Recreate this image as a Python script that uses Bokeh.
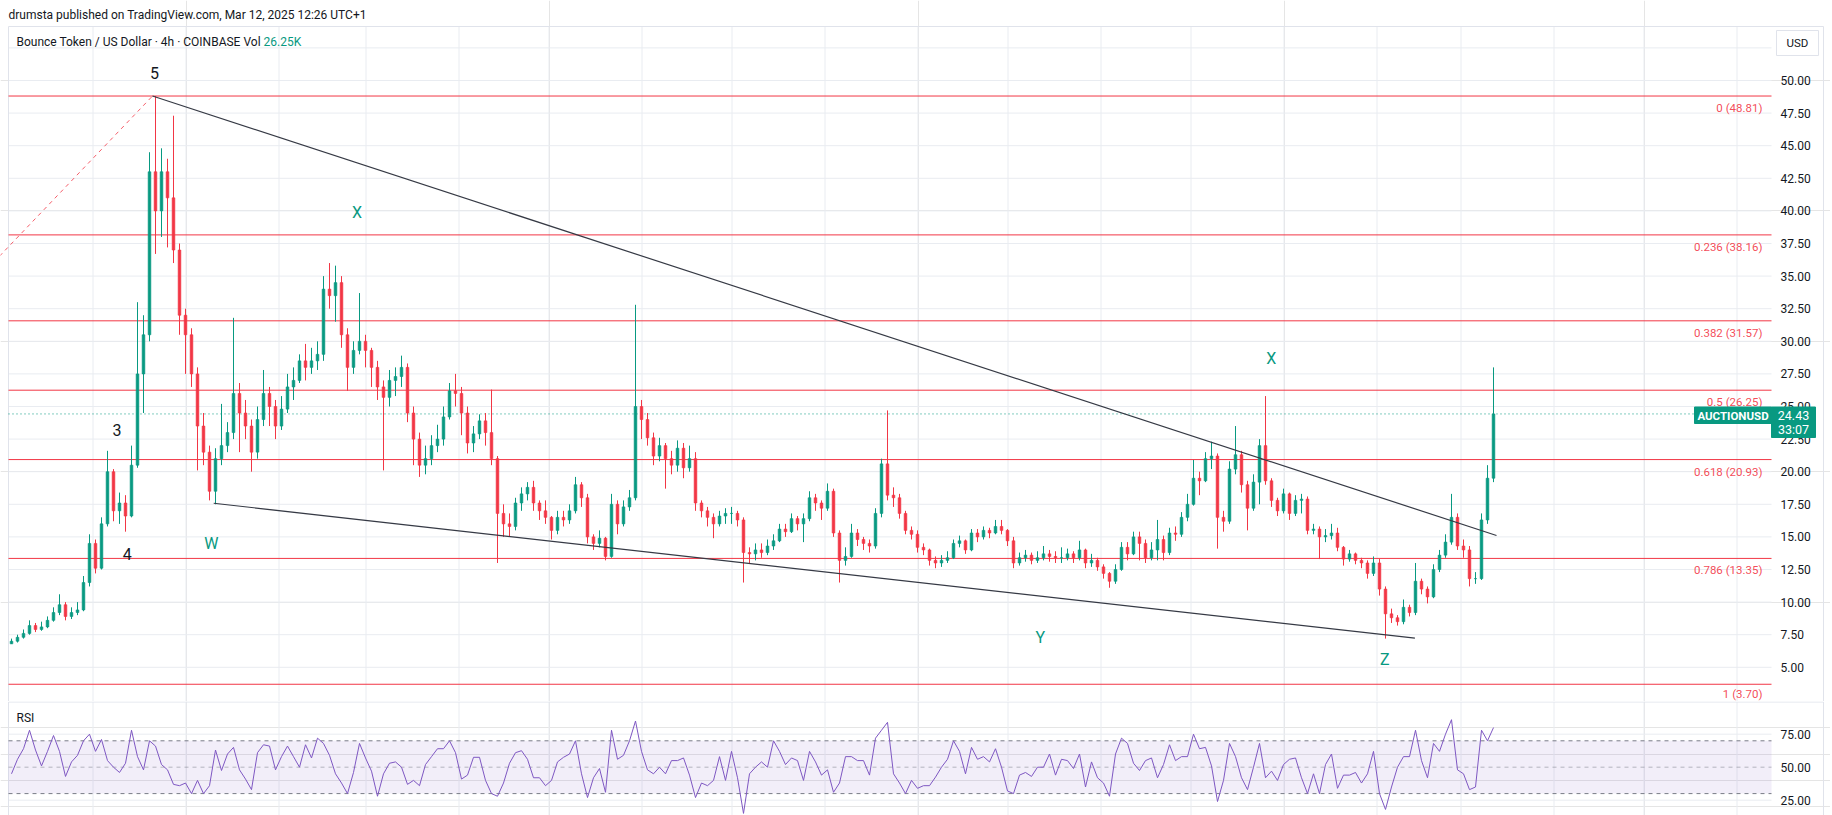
import pandas as pd
from bokeh.plotting import figure
from bokeh.models import Range1d, ColumnDataSource
from bokeh.layouts import column
from bokeh.embed import file_html
from bokeh.resources import INLINE
from bokeh.core.properties import value

FONT = "Roboto"
UP, DOWN = "#089981", "#f23645"
GRID = "#e9ecf1"
BORDER = "#e0e3eb"
TXT = "#131722"

# ---------------- data (2-day candles) ----------------
first_open = 6.8
close = [
    7.0, 7.3, 7.6, 8.2, 7.9, 8.1, 8.6, 9.2, 9.8, 8.9,
    9.2, 9.4, 11.5, 14.5, 12.6, 16.0, 20.0, 17.0, 17.6, 16.6,
    20.5, 27.5, 30.5, 43.0, 40.0, 43.0, 41.0, 37.0, 32.0, 30.5,
    27.5, 23.5, 21.5, 18.5, 21.0, 22.0, 23.0, 26.0, 24.5, 23.5,
    21.5, 24.0, 26.0, 25.0, 23.5, 24.8, 26.5, 27.0, 28.5, 28.0,
    28.5, 29.0, 34.0, 33.5, 34.5, 30.5, 28.0, 29.3, 30.0, 29.3,
    28.0, 26.5, 25.7, 27.0, 27.3, 28.0, 24.5, 22.5, 20.5, 21.0,
    22.0, 22.5, 24.2, 26.2, 26.0, 24.5, 22.2, 22.9, 23.9, 23.0,
    21.0, 16.8, 16.0, 15.8, 17.6, 18.3, 18.8, 17.6, 17.0, 16.5,
    15.5, 16.5, 16.3, 17.0, 19.0, 18.0, 15.0, 14.5, 14.9, 13.5,
    17.5, 16.0, 17.3, 18.0, 25.0, 24.0, 22.6, 21.2, 22.0, 21.0,
    20.5, 21.8, 20.3, 21.0, 17.6, 17.0, 16.5, 16.0, 16.6, 16.8,
    16.8, 16.3, 13.8, 13.7, 14.0, 13.8, 14.3, 14.7, 15.6, 15.4,
    16.4, 16.0, 16.4, 18.0, 17.6, 17.2, 18.5, 15.3, 13.2, 13.5,
    15.3, 14.8, 14.5, 14.3, 16.8, 20.6, 18.2, 18.0, 16.8, 15.5,
    15.2, 14.2, 14.0, 13.2, 13.0, 13.2, 13.4, 14.5, 14.7, 14.0,
    15.3, 15.0, 15.5, 15.3, 15.8, 15.5, 14.7, 13.0, 13.4, 13.6,
    13.2, 13.4, 13.7, 13.5, 13.4, 13.4, 13.7, 13.4, 14.0, 13.0,
    13.2, 12.7, 12.2, 11.6, 12.5, 14.2, 13.7, 15.0, 14.5, 13.4,
    14.0, 14.8, 13.8, 15.3, 15.2, 16.5, 17.5, 19.5, 19.3, 21.0,
    21.2, 16.5, 16.2, 20.2, 21.3, 19.0, 17.2, 19.2, 22.0, 19.3,
    17.8, 17.0, 18.3, 16.8, 17.8, 17.9, 15.5, 15.6, 15.0, 15.1,
    15.3, 14.2, 13.3, 13.7, 13.2, 13.0, 12.2, 13.0, 11.0, 9.1,
    8.8, 8.5, 9.6, 9.2, 11.6, 11.0, 10.4, 12.5, 13.6, 14.6,
    16.5, 14.3, 14.0, 11.8, 11.8, 16.3, 19.5, 24.43,
]
high = [
    7.2, 7.5, 7.9, 8.6, 8.4, 8.5, 8.9, 9.6, 10.6, 10.0,
    9.6, 10.0, 12.0, 15.2, 14.8, 16.5, 21.6, 20.2, 18.4, 18.2,
    22.0, 33.0, 32.0, 44.5, 48.81, 44.8, 44.0, 47.3, 37.5, 32.5,
    31.0, 28.0, 24.5, 22.0, 21.8, 25.2, 23.8, 31.8, 26.8, 25.5,
    24.0, 25.0, 27.8, 26.5, 25.5, 25.8, 27.5, 28.0, 29.0, 29.8,
    29.5, 30.0, 35.0, 36.0, 35.8, 35.0, 31.0, 30.0, 33.7, 30.5,
    29.5, 28.5, 27.0, 27.8, 28.0, 28.9, 28.3, 25.0, 23.0, 22.0,
    22.8, 23.6, 25.0, 26.8, 27.5, 26.5, 25.0, 23.5, 24.4, 24.5,
    26.3, 21.2, 17.5, 16.8, 18.0, 18.8, 19.2, 19.3, 17.8, 17.8,
    16.6, 17.0, 17.0, 17.5, 19.6, 19.2, 18.3, 15.2, 15.5, 15.0,
    18.3, 17.8, 17.8, 18.6, 32.8, 25.5, 24.5, 23.0, 22.6, 22.2,
    21.6, 22.4, 22.2, 22.0, 21.5, 17.8, 17.3, 16.8, 17.0, 17.2,
    17.3, 17.0, 16.5, 14.2, 14.5, 14.5, 14.8, 15.2, 16.0, 16.0,
    16.8, 16.6, 16.8, 18.5, 18.3, 17.8, 19.1, 18.7, 15.5, 14.2,
    16.0, 15.6, 15.0, 14.8, 17.2, 21.0, 24.7, 18.8, 18.3, 17.0,
    15.8, 15.5, 14.5, 14.1, 13.5, 13.6, 13.9, 14.8, 15.1, 14.8,
    15.6, 15.6, 15.8, 15.7, 16.3, 16.3, 15.6, 15.0, 13.8, 14.0,
    13.8, 13.9, 14.3, 14.0, 13.9, 14.2, 14.1, 13.9, 14.7, 14.1,
    13.7, 13.4, 12.9, 12.3, 12.9, 14.6, 14.6, 15.4, 15.4, 14.8,
    14.6, 16.3, 15.1, 15.7, 15.8, 16.9, 18.3, 20.9, 20.0, 21.5,
    22.3, 21.4, 17.0, 20.8, 23.5, 21.6, 19.3, 19.8, 22.5, 25.8,
    19.5, 18.0, 18.7, 18.4, 18.2, 18.3, 18.1, 16.0, 15.8, 15.6,
    16.0, 15.7, 14.3, 14.0, 13.8, 13.4, 13.2, 13.5, 13.3, 11.2,
    9.5, 9.0, 10.2, 9.8, 13.0, 11.8, 11.2, 12.9, 14.0, 15.2,
    18.3, 16.8, 14.8, 14.3, 12.3, 16.8, 20.5, 28.0,
]
low = [
    6.8, 6.9, 7.2, 7.5, 7.7, 7.8, 8.0, 8.5, 9.0, 8.6,
    8.7, 9.0, 9.3, 11.2, 12.2, 12.5, 15.8, 16.2, 16.0, 15.4,
    16.5, 20.3, 24.5, 30.0, 36.7, 38.0, 37.2, 36.0, 30.5, 27.5,
    26.5, 20.1, 20.5, 17.8, 17.5, 20.5, 21.5, 22.5, 21.5, 22.5,
    20.0, 21.0, 23.5, 23.5, 22.5, 23.2, 24.5, 25.5, 26.8, 27.0,
    27.5, 27.8, 28.5, 32.5, 31.5, 29.5, 26.2, 27.5, 29.0, 28.0,
    26.5, 25.5, 20.1, 25.0, 25.8, 26.5, 23.8, 20.5, 19.6, 19.8,
    20.5, 21.5, 22.0, 24.0, 25.0, 22.8, 21.4, 21.5, 22.5, 22.0,
    20.5, 13.0, 15.0, 15.0, 15.5, 17.0, 17.8, 17.0, 16.3, 16.0,
    14.8, 15.2, 15.8, 16.0, 16.8, 17.3, 14.5, 14.0, 14.2, 13.2,
    13.4, 15.2, 15.8, 17.0, 17.8, 22.5, 22.0, 20.5, 20.8, 18.7,
    19.8, 20.0, 19.5, 20.0, 17.0, 16.5, 15.8, 14.9, 15.8, 16.0,
    16.0, 15.8, 11.5, 13.0, 13.2, 13.4, 13.6, 14.0, 14.6, 15.0,
    15.3, 15.5, 14.6, 16.2, 17.0, 16.3, 17.0, 15.0, 11.5, 12.8,
    13.4, 14.3, 14.0, 13.8, 14.1, 16.5, 17.8, 17.3, 16.4, 15.2,
    14.8, 13.8, 13.6, 12.8, 12.6, 12.7, 13.0, 13.3, 14.2, 13.7,
    13.9, 14.6, 14.8, 14.9, 15.2, 15.2, 14.3, 12.6, 12.8, 13.1,
    12.9, 13.0, 13.2, 13.1, 13.0, 13.0, 13.2, 13.0, 13.2, 12.6,
    12.7, 12.4, 11.8, 11.1, 11.4, 12.4, 13.2, 13.6, 13.2, 13.0,
    13.2, 13.2, 13.2, 13.6, 14.7, 15.0, 16.2, 17.4, 18.2, 19.2,
    20.2, 14.1, 15.4, 16.0, 19.8, 18.4, 15.5, 17.0, 17.5, 19.0,
    17.3, 16.6, 16.8, 16.3, 16.6, 16.8, 15.2, 15.2, 13.3, 14.6,
    14.8, 13.9, 12.8, 13.1, 12.9, 12.6, 11.8, 12.0, 10.5, 7.2,
    8.4, 8.2, 8.3, 8.9, 9.0, 10.6, 9.9, 10.3, 12.3, 13.4,
    14.4, 14.0, 13.4, 11.2, 11.4, 11.7, 16.0, 19.2,
]
rsi = [
    45, 56, 64, 78, 63, 51, 62, 74, 62, 43,
    54, 59, 70, 75, 62, 71, 55, 50, 46, 53,
    78, 58, 48, 70, 66, 52, 48, 37, 36, 38,
    30, 40, 30, 36, 63, 47.5, 60, 65, 48, 41,
    33, 61, 67, 66, 48, 58, 66, 58, 50, 67,
    57, 72, 68, 59, 45, 38, 30, 46, 68, 57,
    47, 28, 45, 53, 54, 50, 37, 40, 36, 52,
    58, 64, 64, 70, 61, 41, 44, 57.5, 57.5, 40,
    30, 28, 38, 53, 61, 62.5, 56, 42, 42, 36,
    40, 54, 57.5, 60, 70, 45, 27, 42, 49, 31,
    78, 56, 59, 70, 85, 62, 48, 45, 50, 45,
    55, 55, 57, 44, 27, 38, 36, 40, 58, 40,
    62, 42, 15, 45, 50, 54, 50, 70, 62, 52,
    57, 55, 40, 62, 54, 44, 48, 31, 38, 58,
    58, 55, 55, 44, 72, 78, 84, 45, 38, 30,
    40, 34, 36, 36, 42.5, 50, 56, 70, 62, 45,
    65, 56, 58, 54, 64, 50, 32, 30, 44, 46,
    43, 50, 50, 60, 44, 56, 55, 49, 60, 35,
    54, 42, 38, 28, 60, 72, 68, 53, 47.5, 55,
    57, 42, 52, 67, 55, 58, 58, 75, 64, 65,
    51, 24, 40, 68, 58, 42, 33, 50, 68, 42,
    47, 40, 52, 56, 57, 42, 30, 45, 30, 52,
    60, 34, 44, 44, 46, 38, 45, 62, 30, 18,
    35, 50, 58, 58, 78, 55, 42, 68, 62, 75,
    86, 48, 45, 33, 35, 78, 70, 80,
]
last_price = 24.43
countdown = "33:07"
fib_ratios = ["0", "0.236", "0.382", "0.5", "0.618", "0.786", "1"]
fib_prices = [48.81, 38.16, 31.57, 26.25, 20.93, 13.35, 3.70]
price_ticks = [5.0 + 2.5 * k for k in range(19)]      # 5.00 .. 50.00
grid_prices = [5.0 + 2.5 * k for k in range(20)]      # incl. 52.50 (under the USD box)
rsi_ticks = [25, 50, 75]
rsi_upper, rsi_mid, rsi_lower = 70, 50, 30
month_starts = ["2023-12-01", "2024-01-01", "2024-02-01", "2024-03-01", "2024-04-01",
                "2024-05-01", "2024-06-01", "2024-07-01", "2024-08-01", "2024-09-01",
                "2024-10-01", "2024-11-01", "2024-12-01", "2025-01-01", "2025-02-01",
                "2025-03-01", "2025-04-01", "2025-05-01", "2025-06-01"]
wave_text = ["5", "3", "4", "W", "X", "X", "Y", "Z"]
wave_day = [48.7, 36.2, 39.6, 67.6, 116.2, 420.9, 343.9, 458.8]
wave_price = [50.6, 23.2, 13.7, 14.5, 39.9, 28.7, 7.3, 5.6]
wave_color = [TXT, TXT, TXT, UP, UP, UP, UP, UP]
upper_line = [(48.0, 48.81), (496.0, 15.11)]
lower_line = [(68.4, 17.58), (468.8, 7.23)]
fib_anchor = [(-139.3, 3.70), (48.0, 48.81)]

# ---------------- screen layout helpers (page pixels -> data) ----------------
t0 = pd.Timestamp("2023-11-02 20:00")          # time at the chart's left edge (x = 8px)
def day(d):
    return t0 + pd.Timedelta(days=d)
def X(px):                                      # 3 px per day
    return day((px - 8) / 3.0)
def P(py):                                      # price pane: 13.04 px per USD
    return 50 - (py - 80) / 13.04
def R(py):                                      # RSI pane: 1.32 px per point
    return 50 + (766.7 - py) / 1.32

W, H1, H2 = 1830, 701, 114
L, PR, RB = 8, 1771, 1823                       # left edge, plot right edge, chart right border
xr = Range1d(start=X(0), end=X(W))

dates = [day(2 * i + 1) for i in range(len(close))]
opens = [first_open] + close[:-1]
src = ColumnDataSource(dict(
    t=dates, h=high, l=low,
    top=[max(o, c) for o, c in zip(opens, close)],
    bot=[min(o, c) for o, c in zip(opens, close)],
    col=[UP if c >= o else DOWN for o, c in zip(opens, close)]))
months = [pd.Timestamp(m) for m in month_starts]

def base_fig(h, yr):
    f = figure(width=W, height=h, x_range=xr, y_range=yr,
               x_axis_location=None, y_axis_location=None,
               output_backend="svg", toolbar_location=None, min_border=0)
    f.outline_line_color = None
    f.background_fill_color = "white"
    f.border_fill_color = "white"
    return f

# ---------------- main price pane ----------------
p = base_fig(H1, Range1d(P(H1), P(0)))
top_y, bot_y = P(26), P(H1)
p.segment(x0=months, x1=months, y0=[top_y] * len(months), y1=[bot_y] * len(months),
          line_color=GRID, line_width=1)
p.segment(x0=[X(L)] * len(grid_prices), x1=[X(PR)] * len(grid_prices),
          y0=grid_prices, y1=grid_prices, line_color=GRID, line_width=1)
p.segment(x0=[X(L), X(L), X(RB)], x1=[X(RB), X(L), X(RB)],
          y0=[top_y, top_y, top_y], y1=[top_y, bot_y, bot_y],
          line_color=BORDER, line_width=1)

for v in fib_prices:
    p.line(x=[X(L), X(PR)], y=[v, v], line_color=DOWN, line_width=1)
p.line(x=[X(L), X(PR)], y=[last_price, last_price],
       line_color=UP, line_width=1, line_dash="1 3")
p.line(x=[day(d) for d, _ in fib_anchor], y=[v for _, v in fib_anchor],
       line_color=DOWN, line_dash="4 4", line_width=1, line_alpha=0.8)

p.segment(x0="t", y0="l", x1="t", y1="h", line_color="col", line_width=1, source=src)
p.vbar(x="t", width=2 * 86400000 * 0.45, top="top", bottom="bot",
       fill_color="col", line_color="col", line_width=0.6, source=src)

for ln in (upper_line, lower_line):
    p.line(x=[day(d) for d, _ in ln], y=[v for _, v in ln],
           line_color="#363a45", line_width=1.2)

fib_label_y = [max(v - 0.92, P(693)) for v in fib_prices]
p.text(x=[X(1762)] * len(fib_prices), y=fib_label_y,
       text=[f"{r} ({v:.2f})" for r, v in zip(fib_ratios, fib_prices)],
       text_align="right", text_baseline="middle", text_font=value(FONT),
       text_font_size="11.5px", text_color=DOWN, text_alpha=0.9)
p.text(x=[day(d) for d in wave_day], y=wave_price, text=wave_text,
       text_color=wave_color, text_align="center", text_baseline="middle",
       text_font=value(FONT), text_font_size="16px")

# price scale labels
p.text(x=[X(1780)] * len(price_ticks), y=price_ticks,
       text=[f"{v:.2f}" for v in price_ticks], text_align="left",
       text_baseline="middle", text_font=value(FONT), text_font_size="12px",
       text_color=TXT)

# header texts
p.text(x=[X(L)], y=[P(14)], text=["drumsta published on TradingView.com, Mar 12, 2025 12:26 UTC+1"],
       text_font=value(FONT), text_font_size="12px", text_color=TXT,
       text_align="left", text_baseline="middle")
p.text(x=[X(16)], y=[P(41)], text=["Bounce Token / US Dollar · 4h · COINBASE  Vol"],
       text_font=value(FONT), text_font_size="12px", text_color=TXT,
       text_align="left", text_baseline="middle")
p.text(x=[X(263)], y=[P(41)], text=["26.25K"],
       text_font=value(FONT), text_font_size="12px", text_color=UP,
       text_align="left", text_baseline="middle")

# USD box
p.quad(left=[X(1776)], right=[X(1818)], top=[P(30)], bottom=[P(55)],
       fill_color="white", line_color=BORDER)
p.text(x=[X(1797)], y=[P(42.5)], text=["USD"], text_align="center",
       text_baseline="middle", text_font=value(FONT), text_font_size="11.5px",
       text_color=TXT)
# last price badges
p.quad(left=[X(1694), X(PR)], right=[X(PR), X(1815)], top=[P(406.5), P(406.5)],
       bottom=[P(423), P(437)], fill_color=UP, line_color=UP)
p.text(x=[X(1732.5)], y=[P(415)], text=["AUCTIONUSD"], text_align="center",
       text_baseline="middle", text_font=value(FONT), text_font_size="11.5px",
       text_font_style="bold", text_color="white")
p.text(x=[X(1793), X(1793)], y=[P(414.5), P(429)], text=[f"{last_price:.2f}", countdown],
       text_align="center", text_baseline="middle", text_font=value(FONT),
       text_font_size="12.5px", text_color="white")

# ---------------- RSI pane ----------------
r = base_fig(H2, Range1d(R(815), R(701)))
r_top, r_bot = R(701.5), R(815)
r.segment(x0=months, x1=months, y0=[r_top] * len(months), y1=[r_bot] * len(months),
          line_color=GRID, line_width=1)
r.segment(x0=[X(L)] * 2, x1=[X(PR)] * 2, y0=[25, 75], y1=[25, 75],
          line_color=GRID, line_width=1)
r.segment(x0=[X(L), X(L), X(RB)], x1=[X(RB), X(L), X(RB)],
          y0=[r_top, r_top, r_top], y1=[r_top, r_bot, r_bot],
          line_color=BORDER, line_width=1)
r.quad(left=[X(L)], right=[X(PR)], bottom=[rsi_lower], top=[rsi_upper],
       fill_color="#7e57c2", fill_alpha=0.1, line_color=None)
r.segment(x0=[X(L)] * 2, x1=[X(PR)] * 2, y0=[rsi_upper, rsi_lower],
          y1=[rsi_upper, rsi_lower], line_color="#787b86", line_dash="4 4", line_width=1)
r.segment(x0=[X(L)], x1=[X(PR)], y0=[rsi_mid], y1=[rsi_mid],
          line_color="#787b86", line_dash="4 4", line_width=1, line_alpha=0.5)
r.line(x=dates, y=rsi, line_color="#7e57c2", line_width=1)
r.text(x=[X(1780)] * 3, y=rsi_ticks, text=[f"{v:.2f}" for v in rsi_ticks],
       text_align="left", text_baseline="middle", text_font=value(FONT),
       text_font_size="12px", text_color=TXT)
r.text(x=[X(16)], y=[R(717)], text=["RSI"], text_align="left", text_baseline="middle",
       text_font=value(FONT), text_font_size="12px", text_color=TXT)

layout = column(p, r, spacing=0)
open("out.html", "w").write(file_html(layout, INLINE))
